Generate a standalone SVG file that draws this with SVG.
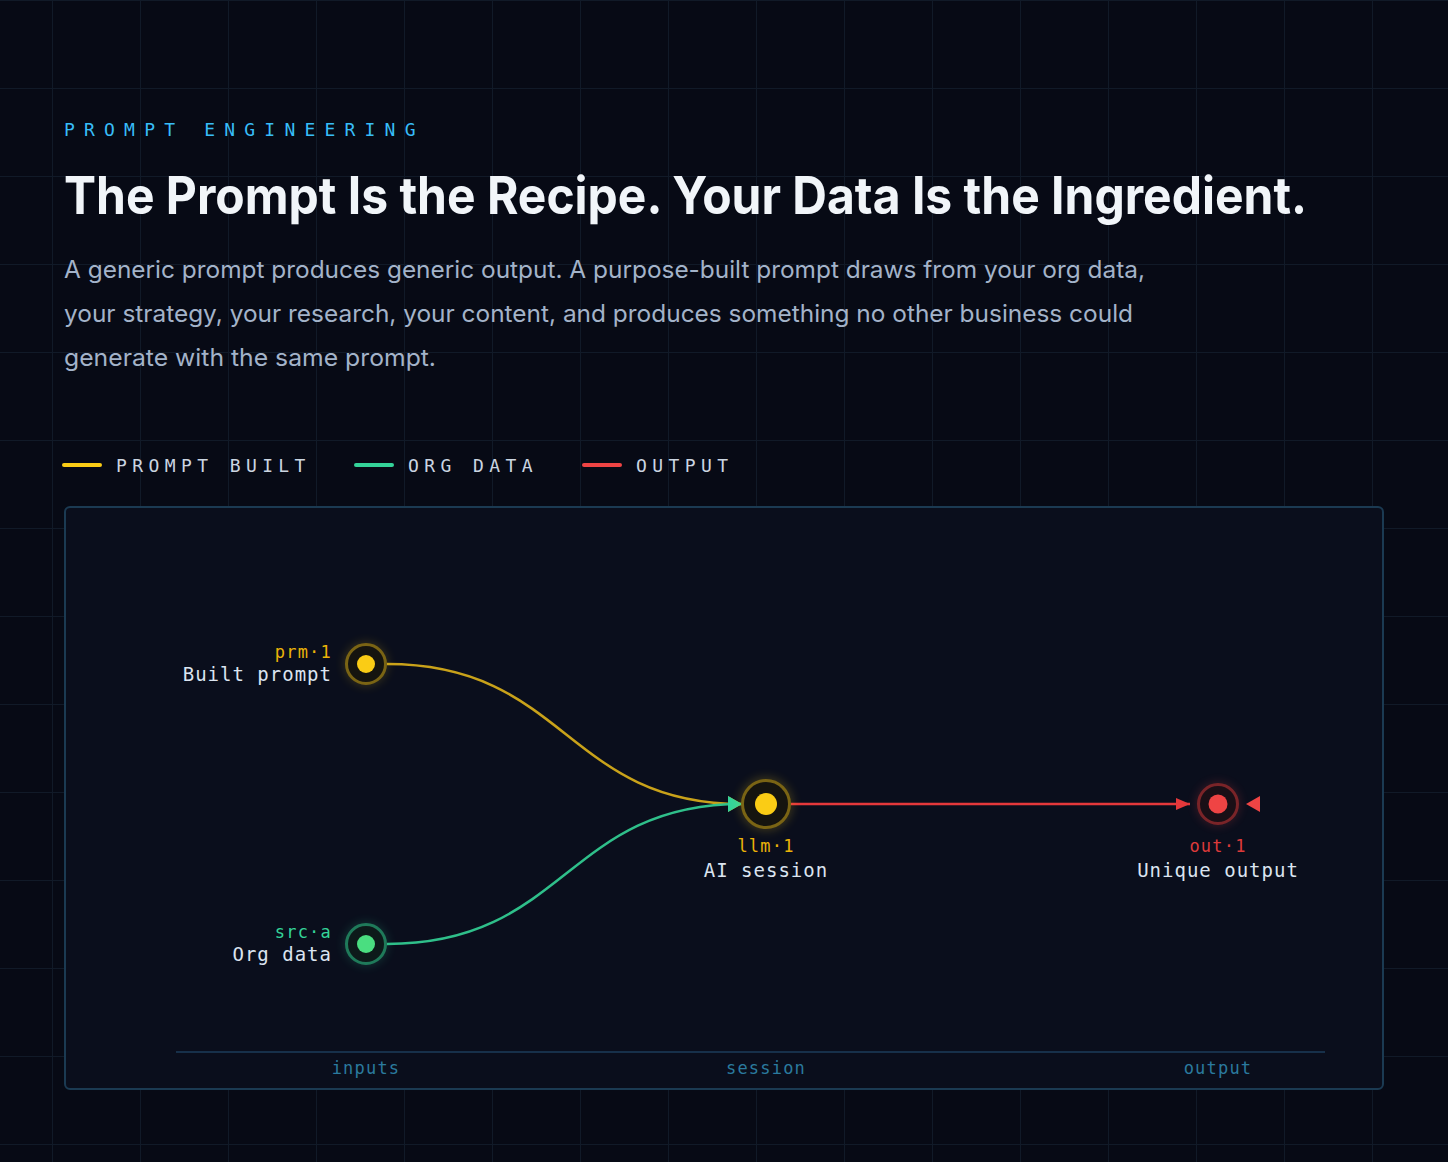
<svg xmlns="http://www.w3.org/2000/svg" width="1448" height="1162" viewBox="0 0 1448 1162">
  <defs>
    <pattern id="grid" x="52" y="0" width="88" height="88" patternUnits="userSpaceOnUse">
      <path d="M0 0 V88 M0 0 H88" fill="none" stroke="#111a28" stroke-width="2"/>
    </pattern>
    <filter id="glow" x="-100%" y="-100%" width="300%" height="300%">
      <feGaussianBlur stdDeviation="5"/>
    </filter>
    <marker id="arrG" viewBox="0 0 14 16" refX="14" refY="8" markerWidth="14" markerHeight="16" markerUnits="userSpaceOnUse" orient="auto">
      <path d="M0 0 L14 8 L0 16 Z" fill="#34d399"/>
    </marker>
    <marker id="arrY" viewBox="0 0 14 16" refX="14" refY="8" markerWidth="14" markerHeight="16" markerUnits="userSpaceOnUse" orient="auto">
      <path d="M0 0 L14 8 L0 16 Z" fill="#c9a21a"/>
    </marker>
    <marker id="arrR" viewBox="0 0 14 12" refX="14" refY="6" markerWidth="14" markerHeight="12" markerUnits="userSpaceOnUse" orient="auto">
      <path d="M0 0 L14 6 L0 12 Z" fill="#e5383b"/>
    </marker>
  </defs>
  <style>
    .eyebrow { font-family: "DejaVu Sans Mono", "Liberation Mono", monospace; font-size: 18px; letter-spacing: 9.2px; fill: #38bdf8; }
    .title { font-family: Inter, "Liberation Sans", sans-serif; font-size: 52px; font-weight: 700; fill: #f1f5f9; }
    .lede { font-family: Inter, "Liberation Sans", sans-serif; font-size: 24px; fill: #a3b3c9; }
    .legend { font-family: "DejaVu Sans Mono", "Liberation Mono", monospace; font-size: 18px; letter-spacing: 5.4px; fill: #cbd5e1; }
    .tag { font-family: "DejaVu Sans Mono", "Liberation Mono", monospace; font-size: 17px; letter-spacing: 1.2px; }
    .name { font-family: "DejaVu Sans Mono", "Liberation Mono", monospace; font-size: 19px; letter-spacing: 1px; fill: #dbe4f0; }
    .axis { font-family: "DejaVu Sans Mono", "Liberation Mono", monospace; font-size: 17px; letter-spacing: 1.2px; fill: #2a7a9e; text-anchor: middle; }
    .ring { stroke-width: 3; }
  </style>

  <rect width="1448" height="1162" fill="#070a15"/>
  <rect width="1448" height="1162" fill="url(#grid)"/>

  <text class="eyebrow" x="64" y="136">PROMPT ENGINEERING</text>
  <text class="title" x="64" y="214" textLength="1243" lengthAdjust="spacingAndGlyphs">The Prompt Is the Recipe. Your Data Is the Ingredient.</text>
  <text class="lede" x="64" y="278" textLength="1081" lengthAdjust="spacingAndGlyphs">A generic prompt produces generic output. A purpose-built prompt draws from your org data,</text>
  <text class="lede" x="64" y="322" textLength="1069" lengthAdjust="spacingAndGlyphs">your strategy, your research, your content, and produces something no other business could</text>
  <text class="lede" x="64" y="366" textLength="372" lengthAdjust="spacingAndGlyphs">generate with the same prompt.</text>

  <g id="legend">
    <line x1="64" y1="465" x2="100" y2="465" stroke="#facc15" stroke-width="4" stroke-linecap="round"/>
    <text class="legend" x="116" y="472">PROMPT BUILT</text>
    <line x1="356" y1="465" x2="392" y2="465" stroke="#34d399" stroke-width="4" stroke-linecap="round"/>
    <text class="legend" x="408" y="472">ORG DATA</text>
    <line x1="584" y1="465" x2="620" y2="465" stroke="#ef4444" stroke-width="4" stroke-linecap="round"/>
    <text class="legend" x="636" y="472">OUTPUT</text>
  </g>

  <g id="panel">
    <rect x="65" y="507" width="1318" height="582" rx="5" fill="#0a0e1c" stroke="#1b3a52" stroke-width="2"/>
    <line x1="176" y1="1052" x2="1325" y2="1052" stroke="#17304a" stroke-width="2"/>
    <text class="axis" x="366" y="1074">inputs</text>
    <text class="axis" x="766" y="1074">session</text>
    <text class="axis" x="1218" y="1074">output</text>
  </g>

  <g id="connectors" fill="none">
    <path d="M387 664 C 566 664 566 804 742 804" stroke="#c9a21a" stroke-width="2.5" marker-end="url(#arrY)"/>
    <path d="M387 944 C 566 944 566 804 742 804" stroke="#2fbf8a" stroke-width="2.5" marker-end="url(#arrG)"/>
    <line x1="791" y1="804" x2="1190" y2="804" stroke="#e5383b" stroke-width="2.5" marker-end="url(#arrR)"/>
  </g>

  <g id="node-prm">
    <circle cx="366" cy="664" r="22" fill="#facc15" opacity="0.18" filter="url(#glow)"/>
    <circle class="ring" cx="366" cy="664" r="19.5" fill="#15140f" stroke="#7a6414"/>
    <circle cx="366" cy="664" r="9" fill="#facc15"/>
    <text class="tag" x="332" y="658" text-anchor="end" fill="#eab308">prm·1</text>
    <text class="name" x="332" y="681" text-anchor="end">Built prompt</text>
  </g>

  <g id="node-src">
    <circle cx="366" cy="944" r="22" fill="#34d399" opacity="0.18" filter="url(#glow)"/>
    <circle class="ring" cx="366" cy="944" r="19.5" fill="#0d1a1a" stroke="#1f7a5a"/>
    <circle cx="366" cy="944" r="9" fill="#4ade80"/>
    <text class="tag" x="332" y="938" text-anchor="end" fill="#34d399">src·a</text>
    <text class="name" x="332" y="961" text-anchor="end">Org data</text>
  </g>

  <g id="node-llm">
    <circle cx="766" cy="804" r="27" fill="#facc15" opacity="0.2" filter="url(#glow)"/>
    <circle class="ring" cx="766" cy="804" r="23.5" fill="#15140f" stroke="#7a6414"/>
    <circle cx="766" cy="804" r="11" fill="#facc15"/>
    <text class="tag" x="766" y="852" text-anchor="middle" fill="#eab308">llm·1</text>
    <text class="name" x="766" y="877" text-anchor="middle">AI session</text>
  </g>

  <g id="node-out">
    <circle cx="1218" cy="804" r="22" fill="#ef4444" opacity="0.2" filter="url(#glow)"/>
    <circle class="ring" cx="1218" cy="804" r="19.5" fill="#1a0f16" stroke="#7a2428"/>
    <circle cx="1218" cy="804" r="9.5" fill="#ef4444"/>
    <polygon points="1246,804 1260,796 1260,812" fill="#ef4444"/>
    <text class="tag" x="1218" y="852" text-anchor="middle" fill="#dc3a3a">out·1</text>
    <text class="name" x="1218" y="877" text-anchor="middle">Unique output</text>
  </g>
</svg>
